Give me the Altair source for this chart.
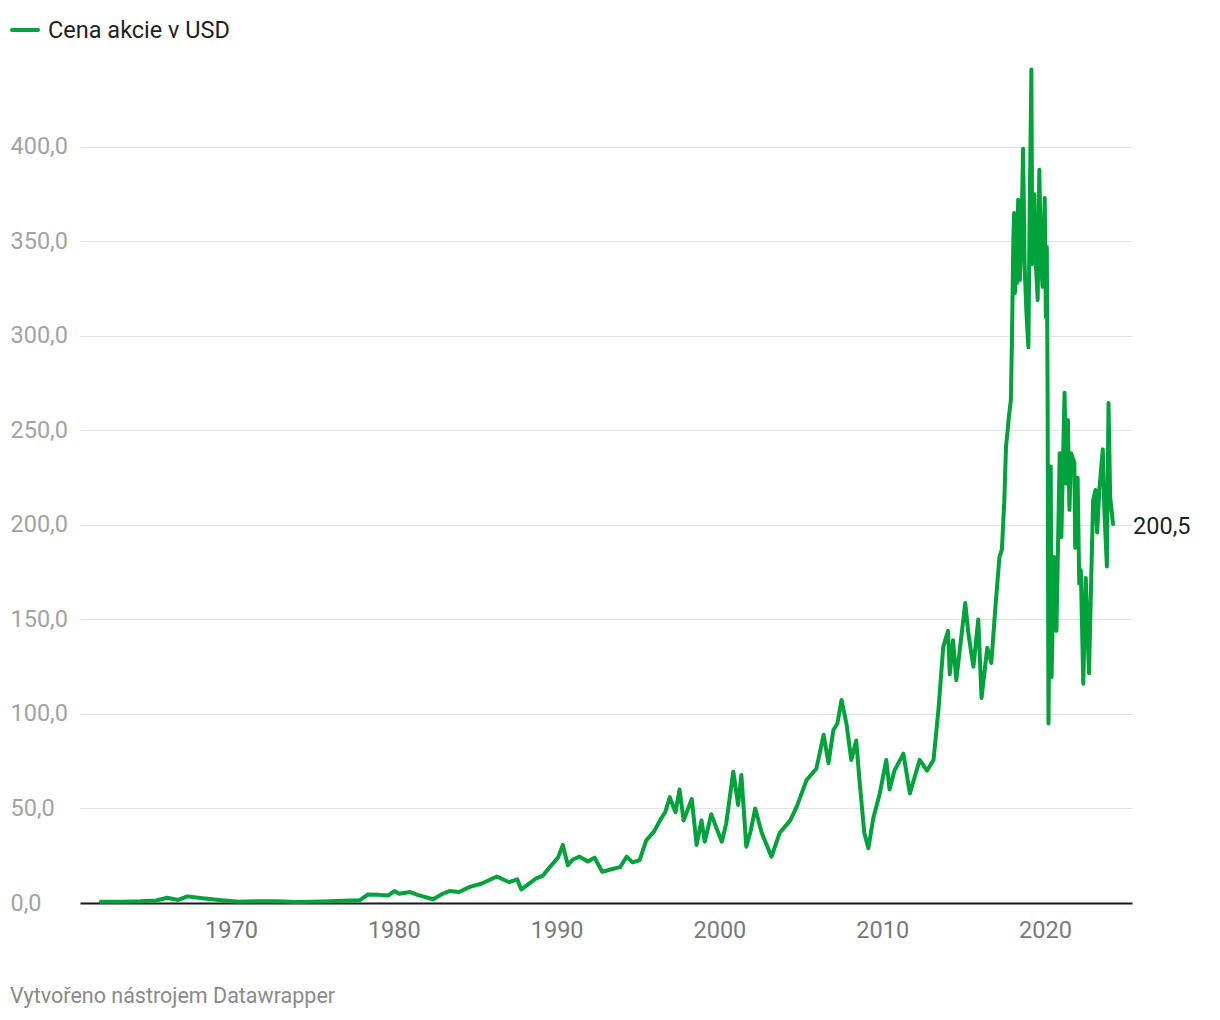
import altair as alt
import pandas as pd

# ---- data (share price, USD) ----
dates = [
    "1962-01-02", "1963-06-01", "1964-06-01", "1965-06-01", "1966-02-01", "1966-10-01",
    "1967-05-01", "1968-04-01", "1969-06-01", "1970-07-01", "1971-08-01", "1972-10-01",
    "1974-01-01", "1975-08-01", "1976-12-01", "1977-12-01", "1978-06-01", "1979-02-01",
    "1979-09-01", "1980-01-15", "1980-05-01", "1981-01-01", "1981-07-01", "1982-06-01",
    "1983-01-01", "1983-06-01", "1984-01-01", "1984-09-01", "1985-06-01", "1986-05-01",
    "1987-02-01", "1987-08-01", "1987-11-01", "1988-10-01", "1989-03-01", "1989-08-01",
    "1990-02-01", "1990-05-20", "1990-09-10", "1991-01-01", "1991-06-01", "1991-12-01",
    "1992-05-01", "1992-10-20", "1993-06-01", "1993-11-25", "1994-04-20", "1994-09-01",
    "1995-02-06", "1995-07-02", "1996-01-01", "1996-05-08", "1996-09-01", "1996-12-14",
    "1997-04-20", "1997-07-20", "1997-10-20", "1998-04-20", "1998-08-08", "1998-11-25",
    "1999-02-06", "1999-07-02", "1999-10-20", "2000-02-24", "2000-06-01", "2000-11-07",
    "2001-02-24", "2001-05-08", "2001-08-26", "2001-12-01", "2002-03-14", "2002-08-08",
    "2003-03-14", "2003-09-13", "2004-05-08", "2004-10-01", "2005-05-08", "2005-12-14",
    "2006-05-27", "2006-09-13", "2007-01-01", "2007-04-01", "2007-07-02", "2007-10-20",
    "2008-02-06", "2008-05-27", "2008-08-08", "2008-11-25", "2009-02-24", "2009-06-15",
    "2009-11-07", "2010-04-01", "2010-06-14", "2010-10-01", "2011-04-20", "2011-09-13",
    "2012-04-20", "2012-10-01", "2013-02-24", "2013-06-14", "2013-10-01", "2014-01-15",
    "2014-02-24", "2014-05-08", "2014-07-20", "2015-02-06", "2015-04-20", "2015-08-08",
    "2015-11-25", "2016-02-06", "2016-06-14", "2016-09-13", "2016-12-14", "2017-03-14",
    "2017-05-08", "2017-07-02", "2017-08-08", "2017-10-20", "2017-11-25", "2017-12-20",
    "2018-01-20", "2018-02-06", "2018-02-24", "2018-03-25", "2018-04-15", "2018-05-08",
    "2018-06-14", "2018-07-20", "2018-08-26", "2018-10-01", "2018-11-10", "2018-12-24",
    "2019-01-20", "2019-03-01", "2019-03-20", "2019-04-05", "2019-05-08", "2019-06-01",
    "2019-07-20", "2019-08-26", "2019-10-01", "2019-11-07", "2019-12-25", "2020-01-20",
    "2020-02-10", "2020-02-28", "2020-03-18", "2020-05-08", "2020-05-27", "2020-07-20",
    "2020-09-13", "2020-11-25", "2021-01-01", "2021-03-14", "2021-04-20", "2021-05-27",
    "2021-07-02", "2021-08-08", "2021-10-20", "2021-11-07", "2022-01-01", "2022-02-06",
    "2022-03-14", "2022-05-08", "2022-07-02", "2022-09-13", "2022-12-14", "2023-02-06",
    "2023-03-14", "2023-05-08", "2023-07-20", "2023-08-26", "2023-10-20", "2023-11-25",
    "2024-01-01", "2024-03-05",
]
prices = [
    0.6, 0.7, 0.9, 1.3, 2.8, 1.6,
    3.5, 2.5, 1.5, 0.7, 0.9, 0.9,
    0.5, 0.8, 1.2, 1.5, 4.5, 4.3,
    4.0, 6.3, 4.9, 5.8, 4.2, 2.0,
    4.9, 6.3, 5.8, 8.5, 10.3, 14.0,
    11.0, 12.5, 7.2, 13.0, 14.5, 19.0,
    24.0, 30.7, 20.0, 23.0, 24.5, 22.0,
    24.0, 16.5, 18.0, 19.0, 24.5, 21.5,
    22.7, 33.0, 38.0, 43.7, 48.0, 56.0,
    48.0, 60.0, 43.7, 55.0, 30.7, 43.7,
    32.4, 47.0, 40.0, 32.4, 42.0, 69.5,
    51.9, 67.7, 29.8, 38.0, 50.0, 37.0,
    24.5, 37.0, 43.7, 51.0, 65.0, 71.0,
    89.0, 74.0, 91.5, 95.0, 107.4, 95.0,
    75.7, 86.0, 65.0, 37.0, 29.0, 45.0,
    58.0, 75.7, 60.0, 70.0, 79.0, 58.0,
    75.7, 70.0, 75.7, 102.0, 135.6, 144.0,
    121.0, 139.0, 118.0, 158.7, 142.0, 125.0,
    150.0, 108.5, 135.0, 127.0, 156.6, 183.0,
    187.0, 213.0, 241.0, 259.0, 266.0, 298.0,
    351.0, 365.0, 322.7, 345.0, 328.0, 372.0,
    329.6, 352.0, 399.0, 336.5, 312.0, 294.0,
    363.0, 441.0, 338.0, 366.0, 375.0, 342.0,
    319.0, 388.0, 340.0, 326.0, 373.0, 310.0,
    347.0, 266.0, 95.0, 231.0, 119.6, 183.0,
    144.0, 238.0, 193.6, 270.0, 222.0, 255.6,
    208.0, 238.0, 233.0, 188.0, 225.0, 169.0,
    176.0, 116.0, 172.0, 121.6, 213.0, 218.5,
    196.0, 220.0, 240.0, 206.0, 178.0, 264.5,
    215.0, 200.5,
]
y_ticks = [0, 50, 100, 150, 200, 250, 300, 350, 400]
x_tick_years = [1970, 1980, 1990, 2000, 2010, 2020]
series_name = "Cena akcie v USD"
end_label = "200,5"
footer = "Vytvořeno nástrojem Datawrapper"

GREEN = "#00a23c"
FONT = "Roboto"
W, H = 1052, 843

df = pd.DataFrame({"date": dates, "price": prices})
last = df.iloc[[-1]].copy()
last["label"] = end_label

x_scale = alt.Scale(
    domain=[alt.DateTime(year=1960, month=9, date=22),
            alt.DateTime(year=2025, month=5, date=5)]
)
y_scale = alt.Scale(domain=[0, 446], nice=False, zero=True)

x_axis = alt.Axis(
    values=[alt.DateTime(year=y, month=1, date=1) for y in x_tick_years],
    format="%Y", title=None, grid=False, ticks=False, tickSize=0,
    domain=True, domainColor="#1a1a1a", domainWidth=2,
    labelFont=FONT, labelFontSize=23.5, labelColor="#7a7a7a",
    labelPadding=15, labelBaseline="top",
)
y_axis = alt.Axis(
    values=y_ticks, title=None, grid=True, gridColor="#e3e3e3", gridWidth=1,
    ticks=False, tickSize=0, domain=False,
    labelExpr="replace(format(datum.value, '.1f'), '.', ',')",
    labelFont=FONT, labelFontSize=23.5, labelColor="#a3a3a3",
    labelAlign="left", labelBaseline="middle", labelPadding=70,
)

line = alt.Chart(df).mark_line(
    color=GREEN, strokeWidth=4, strokeJoin="round", strokeCap="round"
).encode(
    x=alt.X("date:T", scale=x_scale, axis=x_axis),
    y=alt.Y("price:Q", scale=y_scale, axis=y_axis),
)

end_text = alt.Chart(last).mark_text(
    align="left", baseline="middle", dx=20, dy=3, fontSize=23.5, font=FONT, color="#1f1f1f"
).encode(
    x=alt.X("date:T", scale=x_scale),
    y=alt.Y("price:Q", scale=y_scale),
    text="label:N",
)

legend_df = pd.DataFrame({"t": [series_name]})
legend_line = alt.Chart(legend_df).mark_rule(
    color=GREEN, strokeWidth=4, strokeCap="round"
).encode(x=alt.value(-68), x2=alt.value(-42), y=alt.value(-30))
legend_text = alt.Chart(legend_df).mark_text(
    align="left", baseline="middle", fontSize=23.5, font=FONT, color="#1f1f1f"
).encode(x=alt.value(-32), y=alt.value(-29), text="t:N")

footer_df = pd.DataFrame({"t": [footer]})
footer_text = alt.Chart(footer_df).mark_text(
    align="left", baseline="middle", fontSize=21.5, font=FONT, color="#8a8a8a"
).encode(x=alt.value(-70), y=alt.value(937), text="t:N")

chart = alt.layer(line, end_text, legend_line, legend_text, footer_text).properties(
    width=W, height=H,
    padding={"left": 72, "top": 52, "right": 80, "bottom": 115},
    autosize=alt.AutoSizeParams(type="none"),
    background="white",
).configure_view(stroke=None)

chart.save("out.html", embed_options={"renderer": "svg", "actions": False})
